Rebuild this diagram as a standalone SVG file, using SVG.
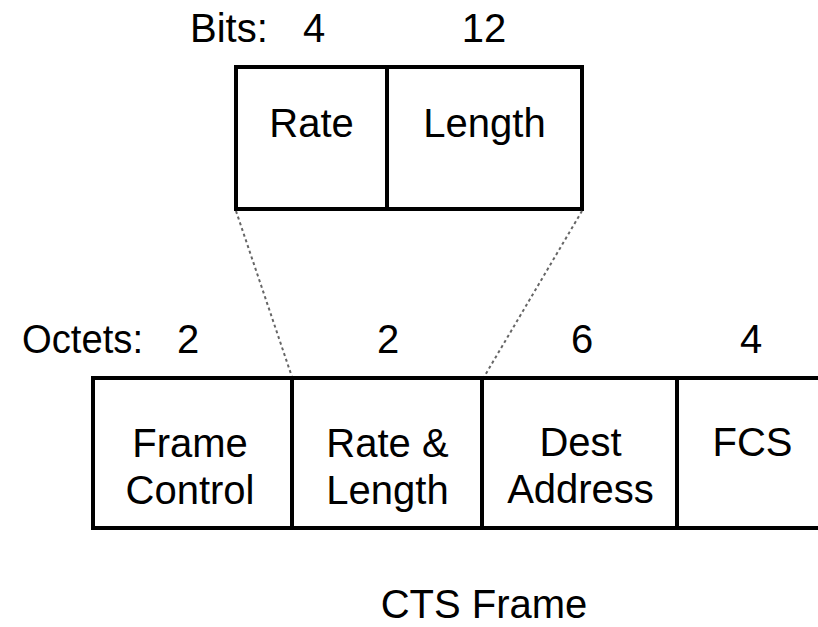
<svg xmlns="http://www.w3.org/2000/svg" width="818" height="627" viewBox="0 0 818 627">
<style>
  text { font-family: "Liberation Sans", Arial, sans-serif; font-size: 40px; fill: #000; }
  .c { text-anchor: middle; }
  .box { fill: #fff; stroke: #000; stroke-width: 4; }
  .div { stroke: #000; stroke-width: 4; }
  .dot { stroke: #666; stroke-width: 2; stroke-dasharray: 3 3; fill: none; }
</style>
<rect width="818" height="627" fill="#fff"/>
<g id="bits-labels">
  <text x="190" y="42">Bits:</text>
  <text class="c" x="314" y="42">4</text>
  <text class="c" x="484" y="42">12</text>
</g>
<g id="rate-length-detail">
  <rect class="box" x="236" y="67" width="346" height="142"/>
  <line class="div" x1="387" y1="67" x2="387" y2="209"/>
  <text class="c" x="311.5" y="137">Rate</text>
  <text class="c" x="484.5" y="137">Length</text>
</g>
<g id="connectors">
  <line class="dot" x1="236" y1="211" x2="292" y2="377"/>
  <line class="dot" x1="582" y1="211" x2="484" y2="377"/>
</g>
<g id="octets-labels">
  <text x="22" y="353" textLength="121" lengthAdjust="spacingAndGlyphs">Octets:</text>
  <text class="c" x="188" y="353">2</text>
  <text class="c" x="388" y="353">2</text>
  <text class="c" x="582" y="353">6</text>
  <text class="c" x="751" y="353">4</text>
</g>
<g id="frame-control">
  <rect class="box" x="93" y="378" width="199" height="150"/>
  <text class="c" x="190" y="457">Frame</text>
  <text class="c" x="190" y="504">Control</text>
</g>
<g id="rate-and-length">
  <rect class="box" x="292" y="378" width="190" height="150"/>
  <text class="c" x="387.5" y="457">Rate &amp;</text>
  <text class="c" x="387.5" y="504">Length</text>
</g>
<g id="dest-address">
  <rect class="box" x="482" y="378" width="195" height="150"/>
  <text class="c" x="580.5" y="456">Dest</text>
  <text class="c" x="580.5" y="503">Address</text>
</g>
<g id="fcs">
  <rect class="box" x="677" y="378" width="160" height="150"/>
  <text class="c" x="752.5" y="456">FCS</text>
</g>
<g id="caption">
  <text class="c" x="484" y="618" font-size="38">CTS Frame</text>
</g>
</svg>
